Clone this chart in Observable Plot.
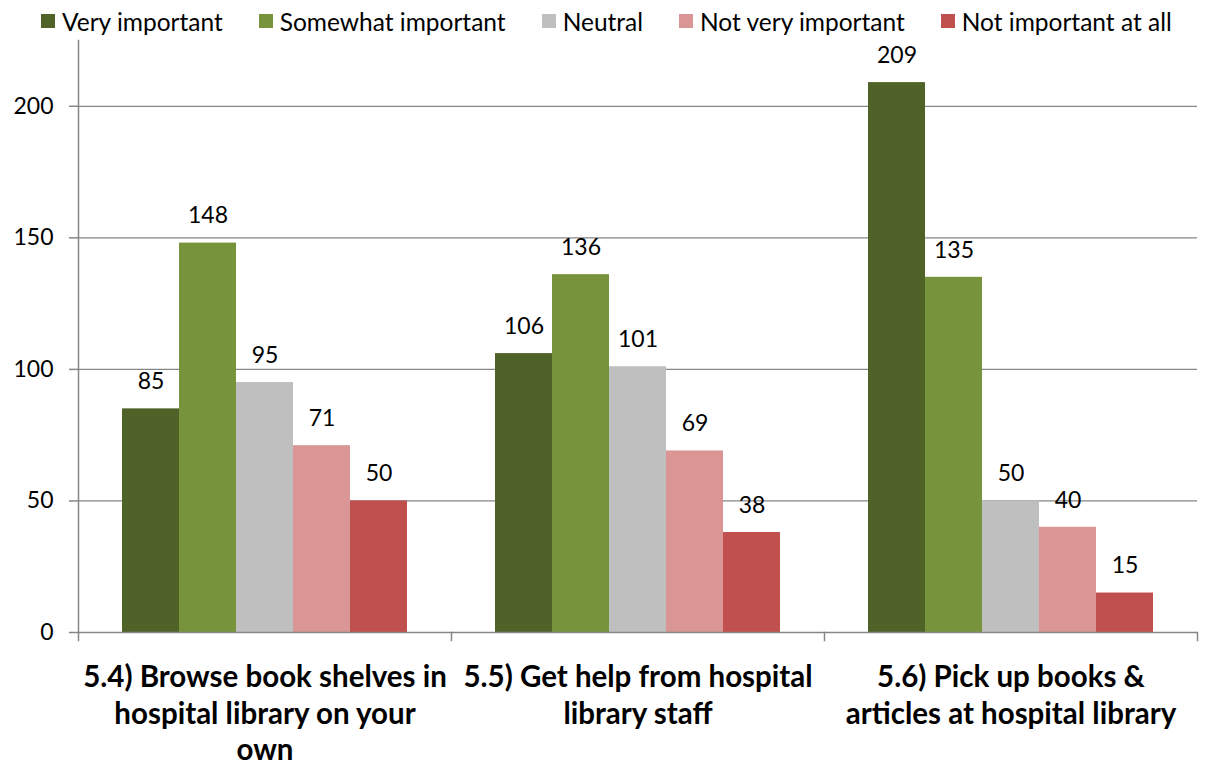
<!DOCTYPE html>
<html><head><meta charset="utf-8">
<script src="https://cdn.jsdelivr.net/npm/d3@7"></script>
<script src="https://cdn.jsdelivr.net/npm/@observablehq/plot@0.6"></script>
<style>
body{margin:0;background:#fff;font-family:Lato,"Open Sans",sans-serif;}
#legend{height:38px;box-sizing:border-box;padding-top:4px;display:flex;align-items:center;padding-left:41px;gap:36px;font-size:24.5px;color:#000;}
#legend .item{display:flex;align-items:center;gap:7px;white-space:nowrap;}
#legend .sw{width:14px;height:14px;display:inline-block;}
</style></head>
<body>
<div id="legend"></div>
<div id="chart"></div>
<script>
const categories = [
  "5.4) Browse book shelves in hospital library on your own",
  "5.5) Get help from hospital library staff",
  "5.6) Pick up books & articles at hospital library"
];
const categoryLines = [
  ["5.4) Browse book shelves in", "hospital library on your", "own"],
  ["5.5) Get help from hospital", "library staff"],
  ["5.6) Pick up books &", "articles at hospital library"]
];
const series = ["Very important", "Somewhat important", "Neutral", "Not very important", "Not important at all"];
const colors = ["#4F6228", "#77933C", "#BFBFBF", "#D99694", "#C0504D"];
const values54 = [85, 148, 95, 71, 50];
const values55 = [106, 136, 101, 69, 38];
const values56 = [209, 135, 50, 40, 15];
const yTicks = [0, 50, 100, 150, 200];

const allValues = [values54, values55, values56];
const data = [];
categories.forEach((c, ci) => series.forEach((s, si) => data.push({category: c, series: s, value: allValues[ci][si]})));

const legend = document.getElementById("legend");
series.forEach((s, i) => {
  const it = document.createElement("div"); it.className = "item";
  const sw = document.createElement("span"); sw.className = "sw"; sw.style.background = colors[i];
  const t = document.createElement("span"); t.textContent = s;
  it.append(sw, t); legend.append(it);
});

const fmtCat = c => categoryLines[categories.indexOf(c)].join("\n");
const gridColor = "#868686";

const chart = Plot.plot({
  width: 1208, height: 727,
  marginTop: 2, marginLeft: 77, marginRight: 11, marginBottom: 133,
  style: {fontFamily: "Lato, 'Open Sans', sans-serif", color: "#000", background: "#fff"},
  fx: {domain: categories, padding: 0, label: null},
  x: {domain: series, paddingInner: 0, paddingOuter: 0.755, axis: null},
  y: {domain: [0, 225], label: null},
  color: {domain: series, range: colors},
  marks: [
    Plot.gridY([50, 100, 150, 200], {stroke: gridColor, strokeOpacity: 1, strokeWidth: 1.2}),
    Plot.barY(data, {fx: "category", x: "series", y: "value", fill: "series", inset: 0}),
    Plot.text(data, {fx: "category", x: "series", y: "value", text: d => String(d.value), dy: -27, fontSize: 23, fill: "#000"}),
    Plot.ruleY([0], {stroke: gridColor, strokeWidth: 1.5}),
    Plot.frame({anchor: "left", facetAnchor: "left", stroke: gridColor, strokeWidth: 1.5}),
    Plot.frame({anchor: "left", stroke: gridColor, strokeWidth: 1.5, insetTop: 592, insetBottom: -8}),
    Plot.frame({anchor: "right", facetAnchor: "right", stroke: gridColor, strokeWidth: 1.5, insetTop: 592, insetBottom: -8}),
    Plot.axisY(yTicks, {tickSize: 9, tickPadding: 16, fontSize: 23, stroke: gridColor, strokeWidth: 1.5, fill: "#000"}),
    Plot.axisFx({anchor: "bottom", tickSize: 0, tickPadding: 28, fontSize: 29.5, fontWeight: "bold", lineHeight: 1.25, tickFormat: fmtCat, fill: "#000"})
  ]
});
document.getElementById("chart").append(chart);
</script>
</body></html>
